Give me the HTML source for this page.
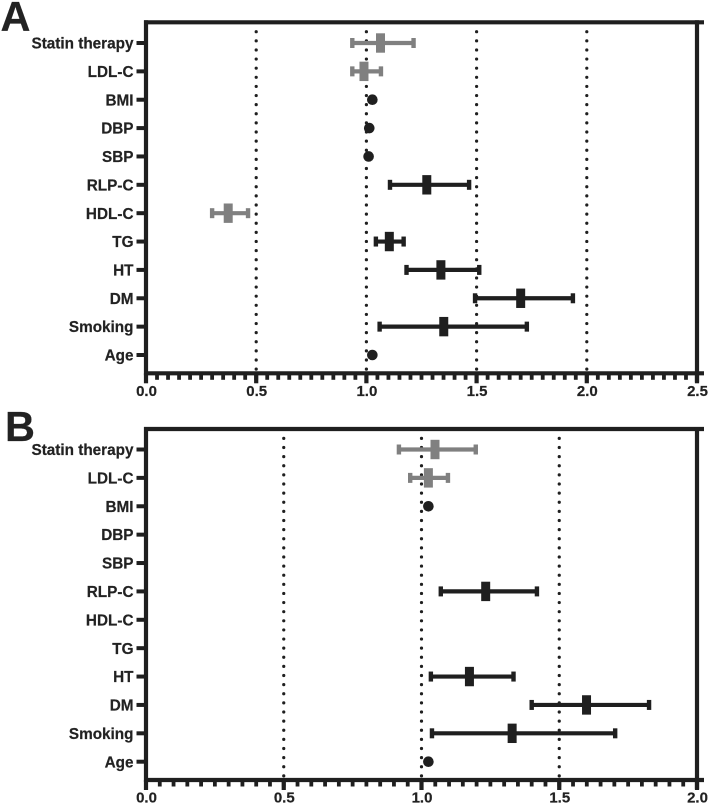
<!DOCTYPE html>
<html lang="en">
<head>
<meta charset="utf-8">
<title>Forest plots A and B</title>
<style>
  html, body { margin: 0; padding: 0; background: #fff; }
  #chart { display: block; width: 709px; height: 804px; font-family: "Liberation Sans", Arial, sans-serif; }
  text { font-weight: bold; fill: #222; stroke: #222; stroke-width: 0.2px; }
</style>
</head>
<body>
<svg id="chart" xmlns="http://www.w3.org/2000/svg" width="709" height="804" viewBox="0 0 709 804"></svg>
<script>
const categories = ["Statin therapy", "LDL-C", "BMI", "DBP", "SBP", "RLP-C", "HDL-C", "TG", "HT", "DM", "Smoking", "Age"];

const panelAOdds = [1.064, 0.989, 1.027, 1.013, 1.010, 1.274, 0.373, 1.104, 1.338, 1.700, 1.351, 1.027];
const panelALow  = [0.936, 0.936, null, null, null, 1.107, 0.300, 1.043, 1.182, 1.493, 1.060, null];
const panelAHigh = [1.214, 1.066, null, null, null, 1.466, 0.463, 1.169, 1.512, 1.937, 1.728, null];
const panelAGrey = [true, true, false, false, false, false, true, false, false, false, false, false];
const panelATicks = [0, 0.5, 1, 1.5, 2, 2.5];
const panelATickLabels = ["0.0", "0.5", "1.0", "1.5", "2.0", "2.5"];
const panelARefLines = [0.5, 1, 1.5, 2];

const panelBOdds = [1.049, 1.025, 1.025, null, null, 1.233, null, null, 1.174, 1.599, 1.329, 1.025];
const panelBLow  = [0.918, 0.959, null, null, null, 1.070, null, null, 1.034, 1.400, 1.038, null];
const panelBHigh = [1.197, 1.096, null, null, null, 1.419, null, null, 1.334, 1.826, 1.703, null];
const panelBGrey = [true, true, false, false, false, false, false, false, false, false, false, false];
const panelBTicks = [0, 0.5, 1, 1.5, 2];
const panelBTickLabels = ["0.0", "0.5", "1.0", "1.5", "2.0"];
const panelBRefLines = [0.5, 1, 1.5];

const minorStep = 0.05;

const svg = document.getElementById('chart');
const NS = 'http://www.w3.org/2000/svg';
const DARK = '#1f1f1f';
const GREY = '#808080';

function shape(tag, props) {
  const el = document.createElementNS(NS, tag);
  for (const k in props) el.setAttribute(k, props[k]);
  svg.appendChild(el);
  return el;
}

function drawPanel(p) {
  const left = 146, right = 697;
  const xMax = p.ticks[p.ticks.length - 1];
  const xScale = v => left + (v / xMax) * (right - left);
  const yScale = i => p.firstRow + i * (p.lastRow - p.firstRow) / (categories.length - 1);

  const letter = shape('text', { x: p.letterX, y: p.letterY, 'font-size': 41.5, fill: DARK });
  letter.textContent = p.letter;
  
  

  p.refs.forEach(v => {
    const ref = shape('line', {
      x1: xScale(v), x2: xScale(v), y1: p.top + 9.4, y2: p.bottom,
      stroke: DARK, 'stroke-width': 3.2, 'stroke-linecap': 'round', 'stroke-dasharray': '0 9.12'
    });
    
    
  });

  const frame = [
    [left - 2, p.top, 704, p.top],
    [left - 2, p.bottom, 704, p.bottom],
    [left, p.top - 2, left, p.bottom + 2],
    [right, p.top - 2, right, p.bottom + 9]
  ];
  frame.forEach(f => {
    const axis = shape('line', { x1: f[0], y1: f[1], x2: f[2], y2: f[3], stroke: DARK, 'stroke-width': 4.2 });
    
    
  });

  const minorCount = Math.round(xMax / minorStep);
  for (let m = 0; m <= minorCount; m++) {
    const mt = shape('line', {
      x1: xScale(m * minorStep), x2: xScale(m * minorStep), y1: p.bottom, y2: p.bottom + 6.5,
      stroke: DARK, 'stroke-width': 3.8
    });
    
    
  }

  p.ticks.forEach((v, i) => {
    const tick = shape('line', {
      x1: xScale(v), x2: xScale(v), y1: p.bottom, y2: p.bottom + 10,
      stroke: DARK, 'stroke-width': 4.2
    });
    
    
    const label = shape('text', { x: xScale(v) + 0.5, y: p.bottom + 22.7, 'font-size': 15, 'text-anchor': 'middle' });
    label.textContent = p.tickLabels[i];
    
    
  });

  categories.forEach((c, i) => {
    const y = yScale(i);
    const tick = shape('line', { x1: 136.5, x2: left, y1: y, y2: y, stroke: DARK, 'stroke-width': 4 });
    
    
    const label = shape('text', { x: 133.5, y: y + 5.6, 'font-size': 15.3, 'text-anchor': 'end' });
    label.textContent = c;
    
    

    const v = p.odds[i];
    if (v === null) return;
    const color = p.grey[i] ? GREY : DARK;
    const cx = xScale(v);
    if (p.low[i] === null) {
      const dot = shape('circle', { cx: cx, cy: y, r: 5.3, fill: color });
      
      
      return;
    }
    const x1 = xScale(p.low[i]), x2 = xScale(p.high[i]);
    const whisker = shape('line', { x1: x1, x2: x2, y1: y, y2: y, stroke: color, 'stroke-width': 4.2 });
    
    
    [x1, x2].forEach(xc => {
      const cap = shape('rect', { x: xc - 2.2, y: y - 5, width: 4.4, height: 10, fill: color });
      
      
    });
    const box = shape('rect', { x: cx - 4.5, y: y - 9.7, width: 9, height: 19.4, fill: color });
    
    
  });
}

drawPanel({
  letter: 'A', letterX: 0.5, letterY: 31,
  top: 22.3, bottom: 373.3, firstRow: 43, lastRow: 355,
  ticks: panelATicks, tickLabels: panelATickLabels, refs: panelARefLines,
  odds: panelAOdds, low: panelALow, high: panelAHigh, grey: panelAGrey
});

drawPanel({
  letter: 'B', letterX: 5, letterY: 441,
  top: 429, bottom: 780, firstRow: 449.5, lastRow: 761.7,
  ticks: panelBTicks, tickLabels: panelBTickLabels, refs: panelBRefLines,
  odds: panelBOdds, low: panelBLow, high: panelBHigh, grey: panelBGrey
});
</script>
</body>
</html>
